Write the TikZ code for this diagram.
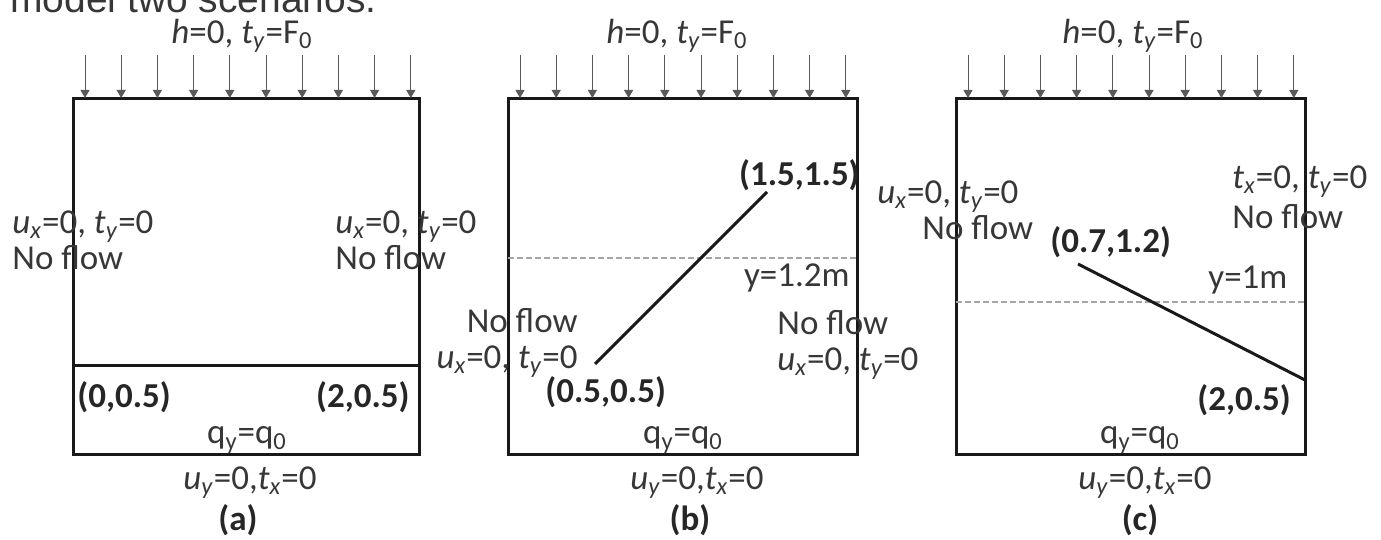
\documentclass[tikz,border=0pt]{standalone}
\usepackage{fontspec}
\setmainfont{Carlito}
\newfontfamily\introfont{Liberation Sans}
\usetikzlibrary{arrows.meta,positioning,calc}
\definecolor{labelgray}{RGB}{55,55,55}
\definecolor{dashgray}{RGB}{165,165,165}
\newcommand{\vr}[1]{\textit{#1}}
\newcommand{\lo}[1]{\textsubscript{#1}}

\begin{document}
\begin{tikzpicture}[x=0.5pt,y=-0.5pt,
 lbl/.style={inner sep=0pt,text=labelgray,font=\fontsize{17.5}{18}\selectfont},
 pt/.style={inner sep=0pt,text=black!85,font=\fontsize{17.5}{18}\selectfont\bfseries},
 wall/.style={draw=black!90,line width=1.5pt},
 crack/.style={black!90,line width=1.5pt},
 level/.style={dashgray,line width=0.6pt,dash pattern=on 3pt off 1.5pt},
 load/.style={-{Triangle[length=4pt,width=4.5pt]},black!65,line width=0.5pt}]
\clip (0,0) rectangle (1381,540);
\node[anchor=base west,inner sep=0pt,text=labelgray,font=\introfont\fontsize{19.5}{22}\selectfont] (intro) at (10,13) {model two scenarios.};
% three domains, loads on top
\foreach \xa/\xb/\tx/\qx/\ux/\cx/\pn in {73/419/242/247/250/238/a,508/857/677/683/697/690/b,956/1305/1133/1140/1145/1140/c}{
  \draw[wall] (\xa,99) rectangle (\xb,454);
  \foreach \i in {0,...,9}{
    \coordinate (\pn-s\i) at (\xa+12+36.2*\i,55);
    \coordinate (\pn-e\i) at (\xa+12+36.2*\i,98);
    \draw[load] (\pn-s\i) -- (\pn-e\i);}
  \node[lbl] (\pn-top) at (\tx,36) {\vr{h}=0, \vr{t}\lo{\vr{y}}=F\lo{0}};
  \node[lbl] (\pn-q) at (\qx,440) {q\lo{y}=q\lo{0}};
  \node[lbl] (\pn-bot) at (\ux,483) {\vr{u}\lo{\vr{y}}=0,\vr{t}\lo{\vr{x}}=0};
  \node[pt] (\pn-cap) at (\cx,520) {(\pn)};
}
% (a) layered
\coordinate (a-il) at (73,365); \coordinate (a-ir) at (419,365);
\draw[wall] (a-il) -- (a-ir);
\node[lbl,anchor=west,align=left] (a-lbc) at (12,240) {\vr{u}\lo{\vr{x}}=0, \vr{t}\lo{\vr{y}}=0\\No flow};
\node[lbl,anchor=west,align=left] (a-rbc) at (335,240) {\vr{u}\lo{\vr{x}}=0, \vr{t}\lo{\vr{y}}=0\\No flow};
\node[pt,anchor=west] (a-p1) at (77,397) {(0,0.5)};
\node[pt,anchor=east] (a-p2) at (410,397) {(2,0.5)};
% (b) rising fault
\coordinate (b-f1) at (595,364); \coordinate (b-f2) at (767,192);
\coordinate (b-dl) at (508,258); \coordinate (b-dr) at (857,258);
\draw[level] (b-dl) -- (b-dr);
\draw[crack] (b-f1) -- (b-f2);
\node[pt,anchor=east] (b-p2) at (860,175) {(1.5,1.5)};
\node[lbl,anchor=east] (b-lev) at (850,278) {y=1.2m};
\node[lbl,anchor=east,align=right] (b-lbc) at (578,343) {No flow\\\vr{u}\lo{\vr{x}}=0, \vr{t}\lo{\vr{y}}=0};
\node[pt,anchor=west] (b-p1) at (545,392) {(0.5,0.5)};
\node[lbl,anchor=west,align=left] (b-rbc) at (777,345) {No flow\\\vr{u}\lo{\vr{x}}=0, \vr{t}\lo{\vr{y}}=0};
% (c) falling fault
\coordinate (c-f1) at (1078,264); \coordinate (c-f2) at (1305,380);
\coordinate (c-dl) at (956,302); \coordinate (c-dr) at (1305,302);
\draw[level] (c-dl) -- (c-dr);
\draw[crack] (c-f1) -- (c-f2);
\node[lbl,anchor=west,align=left] (c-lbc) at (877,210) {\vr{u}\lo{\vr{x}}=0, \vr{t}\lo{\vr{y}}=0\\\hspace*{22.5pt}No flow};
\node[pt,anchor=west] (c-p1) at (1050,242) {(0.7,1.2)};
\node[lbl,anchor=west] (c-lev) at (1208,280) {y=1m};
\node[lbl,anchor=west,align=left,font=\fontsize{17.5}{20}\selectfont] (c-rbc) at (1232,197) {\vr{t}\lo{\vr{x}}=0, \vr{t}\lo{\vr{y}}=0\\No flow};
\node[pt,anchor=west] (c-p2) at (1197,400) {(2,0.5)};
\end{tikzpicture}
\end{document}
